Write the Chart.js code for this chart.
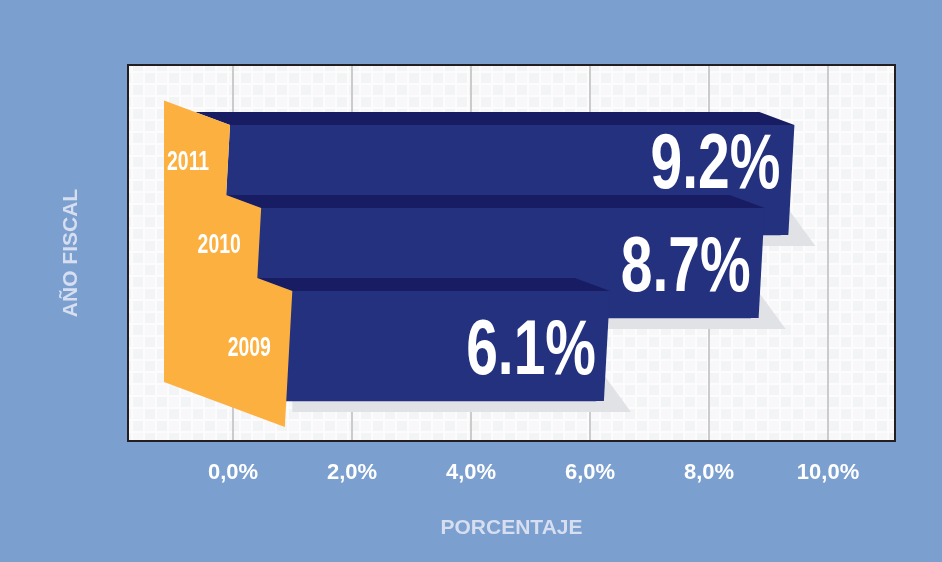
<!DOCTYPE html>
<html>
<head>
<meta charset="utf-8">
<script src="https://cdn.jsdelivr.net/npm/chart.js@4.4.1/dist/chart.umd.min.js"></script>
<style>
  html, body { margin: 0; padding: 0; background: #7b9fcf; }
</style>
</head>
<body>
<canvas id="growthChart" width="942" height="562"></canvas>
<script>
// data
const years = ['2011', '2010', '2009'];
const growth = [9.2, 8.7, 6.1];
const tickValues = [0, 2, 4, 6, 8, 10];
const xTitle = 'PORCENTAJE';
const yTitle = 'AÑO FISCAL';

// colours
const pageBlue = '#7b9fcf';
const navy = '#23317f';
const navyTop = '#181d63';
const orange = '#fbb040';
const shadowGrey = '#e1e2e6';
const labelFont = '"Liberation Sans", Arial, Helvetica, sans-serif';

// fake perspective of the 3D bars
const DEPTH_X = -35, DEPTH_Y = -13;
const SLANT = 0.055;

// light mosaic used behind the plot
const tile = document.createElement('canvas');
tile.width = tile.height = 24;
const t = tile.getContext('2d');
t.fillStyle = '#fcfcfd'; t.fillRect(0, 0, 24, 24);
t.fillStyle = '#f3f4f6'; t.fillRect(1, 1, 10, 10); t.fillRect(13, 13, 10, 10);
t.fillStyle = '#f8f8fa'; t.fillRect(13, 1, 10, 10); t.fillRect(1, 13, 10, 10);

function poly(ctx, pts, color) {
  ctx.beginPath();
  ctx.moveTo(pts[0][0], pts[0][1]);
  for (let k = 1; k < pts.length; k++) ctx.lineTo(pts[k][0], pts[k][1]);
  ctx.closePath();
  ctx.fillStyle = color;
  ctx.fill();
}

// geometry of every bar, taken from the bar elements Chart.js laid out
function barShapes(chart) {
  const x0 = chart.scales.x.getPixelForValue(0);
  const bars = chart.getDatasetMeta(0).data;
  const shapes = [];
  bars.forEach((bar, i) => {
    const top = bar.y - bar.height / 2;
    const bottom = bar.y + bar.height / 2;
    let left = x0 - 3;
    if (i > 0) {
      const prev = shapes[i - 1];
      left = prev.left + (-DEPTH_X) - SLANT * (top + DEPTH_Y - prev.top);
    }
    shapes.push({ top, bottom, left, right: bar.x + 14, h: bar.height });
  });
  return shapes;
}

function drawBigText(ctx, text, x, yCenter, size, squeeze, align) {
  ctx.save();
  ctx.font = 'bold ' + size + 'px ' + labelFont;
  ctx.fillStyle = '#ffffff';
  ctx.textAlign = align;
  ctx.textBaseline = 'alphabetic';
  ctx.translate(x, yCenter + size * 0.716 / 2);
  ctx.scale(squeeze, 1);
  ctx.fillText(text, 0, 0);
  ctx.restore();
}

const bars3d = {
  id: 'bars3d',
  beforeDraw(chart) {
    const { ctx, chartArea: a } = chart;
    ctx.save();
    ctx.fillStyle = pageBlue;
    ctx.fillRect(0, 0, chart.width, chart.height);
    ctx.fillStyle = ctx.createPattern(tile, 'repeat');
    ctx.fillRect(a.left, a.top, a.right - a.left, a.bottom - a.top);
    ctx.restore();
  },
  beforeDatasetsDraw(chart) {
    const ctx = chart.ctx;
    const shapes = barShapes(chart);
    ctx.save();
    shapes.forEach(s => {
      const rb = s.right - SLANT * s.h;
      poly(ctx, [
        [s.left, s.bottom],
        [rb, s.bottom - 26],
        [rb + 27, s.bottom + 11],
        [s.left, s.bottom + 11]
      ], shadowGrey);
    });
    ctx.restore();
  },
  afterDatasetsDraw(chart) {
    const ctx = chart.ctx;
    const shapes = barShapes(chart);
    const x0 = chart.scales.x.getPixelForValue(0);
    ctx.save();
    shapes.forEach((s, i) => {
      // front face
      poly(ctx, [
        [s.left, s.top],
        [s.right, s.top],
        [s.right - SLANT * s.h, s.bottom],
        [s.left - SLANT * s.h, s.bottom]
      ], navy);
      // top face
      poly(ctx, [
        [s.left + DEPTH_X, s.top + DEPTH_Y],
        [s.right + DEPTH_X, s.top + DEPTH_Y],
        [s.right, s.top],
        [s.left, s.top]
      ], navyTop);
      // value label, centred in the part of the front face left uncovered
      const text = growth[i].toFixed(1) + '%';
      ctx.font = 'bold 78px ' + labelFont;
      const w = ctx.measureText(text).width * 0.73;
      const xr = s.right - 14;
      const next = shapes[i + 1];
      let visBottom = s.bottom;
      if (next && next.right > xr - w) visBottom = next.top + DEPTH_Y;
      drawBigText(ctx, text, xr, (s.top + visBottom) / 2, 78, 0.73, 'right');
    });

    // orange year panel
    const panelLeft = x0 - 69;
    const first = shapes[0];
    const pts = [[panelLeft, first.top + DEPTH_Y * (first.left - panelLeft) / -DEPTH_X]];
    shapes.forEach((s, i) => {
      pts.push([s.left, s.top]);
      const next = shapes[i + 1];
      const yEnd = next ? next.top + DEPTH_Y : s.bottom + 26;
      const xEnd = s.left - SLANT * (yEnd - s.top);
      pts.push([xEnd, yEnd]);
      if (!next) pts.push([panelLeft, yEnd + DEPTH_Y * (xEnd - panelLeft) / -DEPTH_X]);
    });
    poly(ctx, pts, orange);

    shapes.forEach((s, i) => {
      const next = shapes[i + 1];
      const visBottom = next ? next.top + DEPTH_Y : s.bottom;
      const cy = (s.top + visBottom) / 2;
      const cx = s.left - SLANT * (cy - s.top) - 40;
      drawBigText(ctx, years[i], cx, cy, 27, 0.72, 'center');
    });
    ctx.restore();
  },
  afterDraw(chart) {
    const { ctx, chartArea: a } = chart;
    ctx.save();
    ctx.strokeStyle = '#231f20';
    ctx.lineWidth = 2;
    ctx.strokeRect(a.left, a.top, a.right - a.left, a.bottom - a.top);
    ctx.restore();
  }
};

const ctx = document.getElementById('growthChart').getContext('2d');

const growthChart = new Chart(ctx, {
  type: 'bar',
  data: {
    labels: years,
    datasets: [{
      label: 'Crecimiento',
      data: years.map((y, i) => ({ x: growth[i], y: i })),
      backgroundColor: navy,
      borderWidth: 0,
      barThickness: 110
    }]
  },
  options: {
    indexAxis: 'y',
    responsive: false,
    animation: false,
    layout: { padding: { top: 65, right: 47, bottom: 0, left: 0 } },
    plugins: {
      legend: { display: false },
      tooltip: { enabled: false }
    },
    scales: {
      x: {
        type: 'linear',
        position: 'bottom',
        min: -1.765,
        max: 11.126,
        afterBuildTicks: scale => { scale.ticks = tickValues.map(v => ({ value: v })); },
        afterFit: scale => { scale.height = 121; },
        grid: { color: '#cbcbcb', lineWidth: 2, drawTicks: false },
        border: { display: false },
        ticks: {
          color: '#ffffff',
          padding: 19,
          font: { family: labelFont, size: 22, weight: 'bold' },
          callback: v => v.toFixed(1).replace('.', ',') + '%'
        },
        title: {
          display: true,
          text: xTitle,
          color: '#d6def0',
          font: { family: labelFont, size: 21, weight: 'bold' },
          padding: { top: 0, bottom: 21 }
        }
      },
      y: {
        type: 'linear',
        offset: false,
        reverse: true,
        min: -1.386,
        max: 3.145,
        afterFit: scale => { scale.width = 128; },
        grid: { display: false, offset: false },
        border: { display: false },
        ticks: { display: false },
        title: {
          display: true,
          text: yTitle,
          color: '#d6def0',
          font: { family: labelFont, size: 21, weight: 'bold' },
          padding: { top: 59, bottom: 0 }
        }
      }
    }
  },
  plugins: [bars3d]
});
</script>
</body>
</html>
